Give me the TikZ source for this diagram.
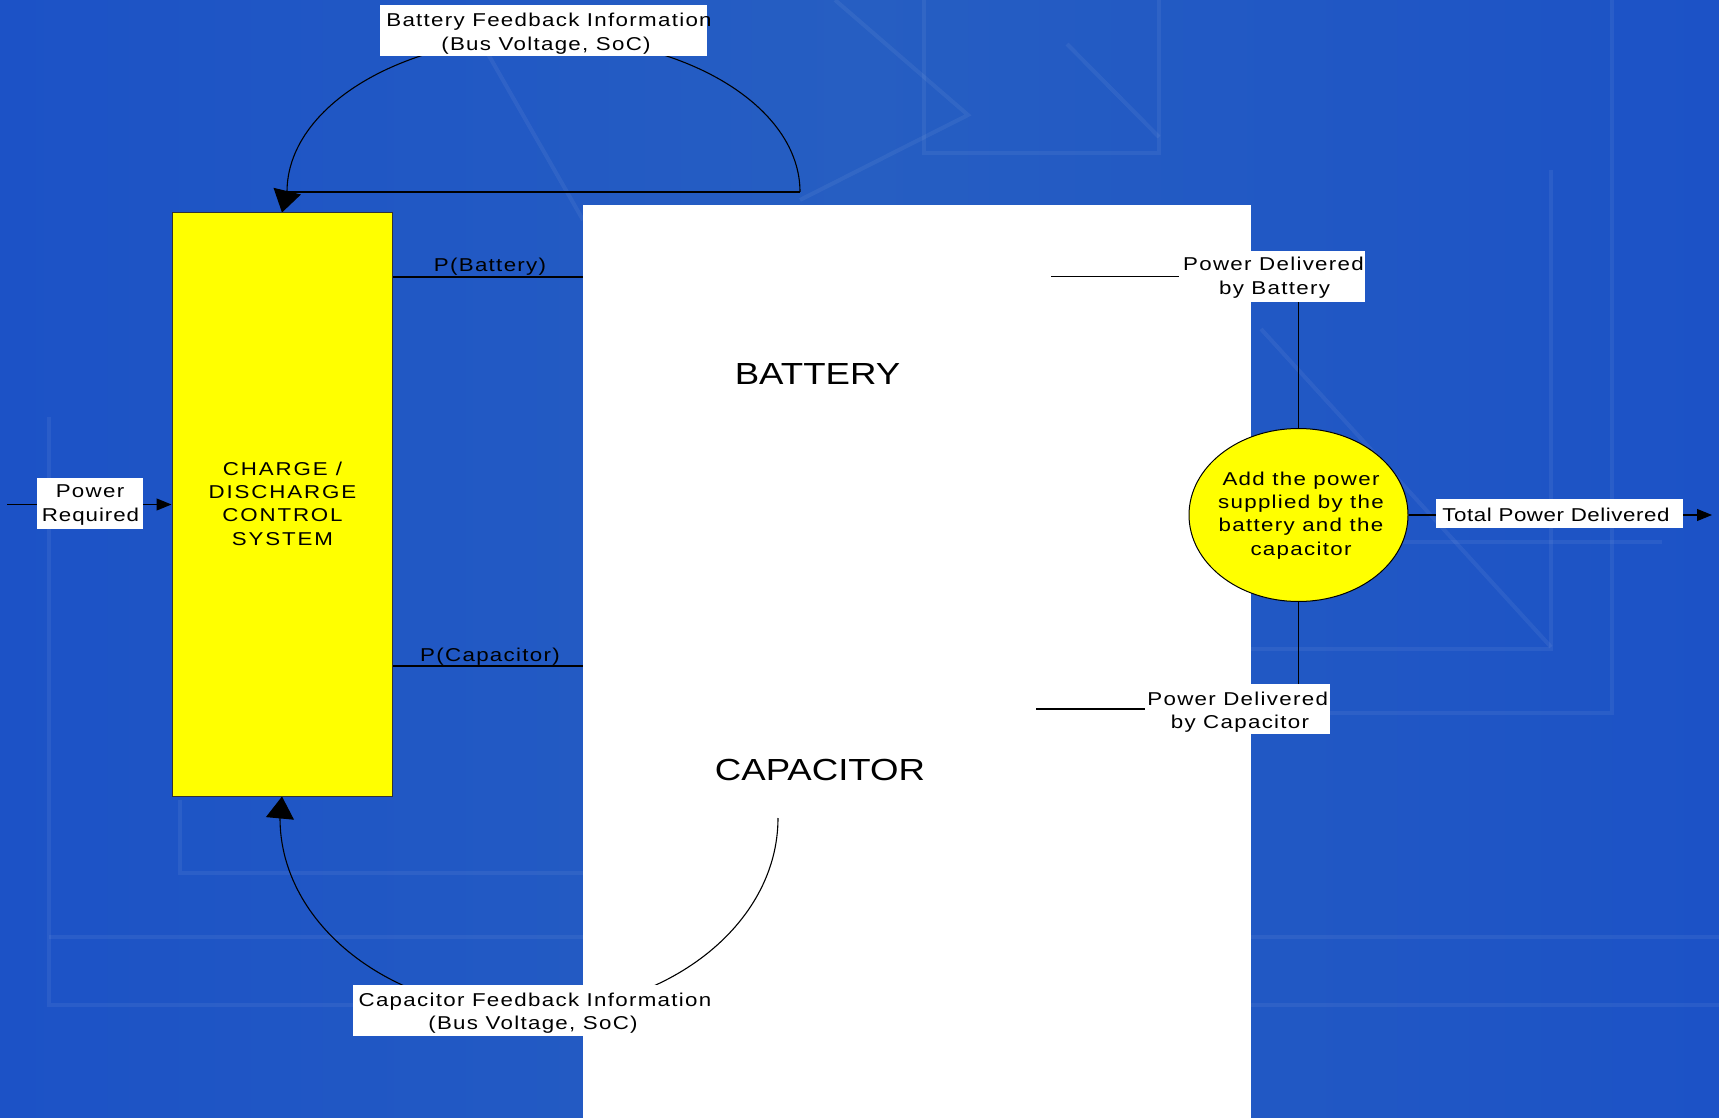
\documentclass[tikz,border=0pt]{standalone}
\usepackage{fontspec}
\setmainfont{Liberation Sans}[FakeStretch=1.2]
\newfontfamily\lblfont{Liberation Sans}[FakeStretch=1.2,LetterSpace=7]
\newfontfamily\lblfontnarrow{Liberation Sans}[FakeStretch=1.2,LetterSpace=3]
\newfontfamily\lblfontwide{Liberation Sans}[FakeStretch=1.2,LetterSpace=10]
\newfontfamily\bigfnt{Liberation Sans}[FakeStretch=1.2]
\usetikzlibrary{arrows.meta,shapes.geometric}
\pgfdeclarelayer{bglayer}
\pgfdeclarelayer{linelayer}
\pgfsetlayers{bglayer,linelayer,main}
\definecolor{bgblueL}{RGB}{28,82,198}
\definecolor{bgblueM}{RGB}{38,94,194}
\definecolor{ybox}{RGB}{255,255,0}
\tikzset{
  lbl/.style={font=\lblfont\fontsize{18.6}{23.3}\selectfont, inner sep=0pt, anchor=base, text=black},
  lbln/.style={font=\lblfontnarrow\fontsize{18.6}{23.3}\selectfont, inner sep=0pt, anchor=base, text=black},
  lblw/.style={font=\lblfontwide\fontsize{18.6}{23.3}\selectfont, inner sep=0pt, anchor=base, text=black},
  bigtxt/.style={font=\bigfnt\fontsize{30.5}{36}\selectfont, inner sep=0pt, anchor=base, text=black},
  wbox/.style={fill=white, draw=none, inner sep=0pt, minimum height=51pt},
  conn/.style={draw=black, line width=1.1pt},
  smallarr/.style={-{Triangle[width=12pt,length=15pt]}},
  bigarr/.style={-{Triangle[width=28pt,length=22pt]}},
  bgline/.style={draw=white, opacity=0.06, line width=4pt}
}
\begin{document}
\begin{tikzpicture}[x=1pt,y=1pt]
\useasboundingbox (0,0) rectangle (1719,-1118);
\begin{pgfonlayer}{bglayer}
  \shade[left color=bgblueL, right color=bgblueL, middle color=bgblueM] (0,0) rectangle (1719,-1118);
  % faint template pattern
  \draw[bgline] (924,0) -- (924,-153) -- (1159,-153) -- (1159,0);
  \draw[bgline] (835,0) -- (968,-115) -- (800,-200);
  \draw[bgline] (1067,-44) -- (1159,-137);
  \draw[bgline] (1251,-649) -- (1551,-649) -- (1551,-170);
  \draw[bgline] (1251,-713) -- (1612,-713) -- (1612,0);
  \draw[bgline] (1251,-542) -- (1662,-542);
  \draw[bgline] (1261,-329) -- (1551,-647);
  \draw[bgline] (49,-417) -- (49,-1005) -- (1719,-1005);
  \draw[bgline] (49,-937) -- (1719,-937);
  \draw[bgline] (180,-800) -- (180,-873) -- (583,-873);
  \draw[bgline] (480,-40) -- (583,-220);
  \node[name=whitebg, fill=white, inner sep=0pt, minimum width=668.5pt, minimum height=913pt, anchor=north west] at (582.5,-205) {};
\end{pgfonlayer}

% main blocks
\node[name=ctrl, draw=black!80, fill=ybox, line width=1pt, minimum width=220pt, minimum height=583pt, inner sep=0pt] at (282,-504.5) {};
\node[lblw, name=ct1] at (282.5,-475) {CHARGE /};
\node[lblw, name=ct2] at (282.5,-498.3) {DISCHARGE};
\node[lblw, name=ct3] at (282.5,-521.6) {CONTROL};
\node[lblw, name=ct4] at (282.5,-545) {SYSTEM};

\node[name=add, ellipse, draw=black, fill=ybox, line width=1pt, minimum width=219pt, minimum height=173pt, inner sep=0pt] at (1298.5,-515) {};
\node[lbl, name=ad1] at (1301,-485) {Add the power};
\node[lbl, name=ad2] at (1301,-508.3) {supplied by the};
\node[lbl, name=ad3] at (1301,-531.7) {battery and the};
\node[lbl, name=ad4] at (1301,-555) {capacitor};

\node[bigtxt, name=battxt] at (817.5,-384) {BATTERY};
\node[bigtxt, name=captxt] at (820,-780) {CAPACITOR};

% label boxes
\node[wbox, name=prbox, minimum width=106pt] at (90,-503.5) {};
\node[lbl, name=pr1] at (90,-497.7) {Power};
\node[lbl, name=pr2, font=\lblfont\fontsize{18.6}{23.3}\selectfont\addfontfeature{LetterSpace=5}] at (90.5,-521.7) {Required};

\node[wbox, name=bfbox, minimum width=327pt] at (543.5,-30.5) {};
\node[lbl, name=bf1] at (549,-26.7) {Battery Feedback Information};
\node[lbl, name=bf2] at (546,-50.7) {(Bus Voltage, SoC)};

\node[wbox, name=cfbox, minimum width=364pt] at (535,-1010.5) {};
\node[lbl, name=cf1] at (535,-1006) {Capacitor Feedback Information};
\node[lbl, name=cf2] at (533,-1029.3) {(Bus Voltage, SoC)};

\node[wbox, name=pdbbox, minimum width=186pt] at (1272,-276.5) {};
\node[lbl, name=pdb1] at (1273.5,-270.7) {Power Delivered};
\node[lbl, name=pdb2] at (1274.5,-294) {by Battery};

\node[wbox, name=pdcbox, minimum width=185pt, minimum height=50pt] at (1237.5,-709) {};
\node[lbl, name=pdc1] at (1237.7,-705) {Power Delivered};
\node[lbl, name=pdc2] at (1240,-728.3) {by Capacitor};

\node[wbox, name=tpbox, minimum width=247pt, minimum height=29pt] at (1559.5,-513.5) {};
\node[lbln, name=tp1] at (1556,-521.7) {Total Power Delivered};

\node[lbl, name=pbat] at (490,-272) {P(Battery)};
\node[lbl, name=pcap] at (490,-661) {P(Capacitor)};

% connectors
\begin{pgfonlayer}{linelayer}
  \coordinate (prstart) at (7,-504.5);
  \draw[conn, smallarr] (prstart) -- (ctrl.west);
  \coordinate (ypb) at (0,-277);
  \coordinate (ypc) at (0,-666);
  \draw[conn] (ctrl.east |- ypb) -- (whitebg.west |- ypb);
  \draw[conn] (ctrl.east |- ypc) -- (whitebg.west |- ypc);
  \coordinate (pdbstart) at (1051,-276.5);
  \draw[conn] (pdbstart) -- (pdbbox.west);
  \draw[conn] (add.north |- pdbbox.south) -- (add.north);
  \coordinate (pdcstart) at (1036,-709);
  \draw[conn] (pdcstart) -- (pdcbox.west);
  \draw[conn] (add.south) -- (add.south |- pdcbox.north);
  \draw[conn] (add.east) -- (add.east -| tpbox.west);
  \coordinate (tpend) at (1712,-515);
  \draw[conn, smallarr] (tpbox.east |- add.east) -- (tpend);
  \coordinate (tfR) at (800,-192);
  \coordinate (tfL) at (287,-192);
  \draw[conn] (tfR) -- (tfL);
  \draw[conn, bigarr] (tfR) arc[start angle=0, end angle=180, x radius=256.5, y radius=155] -- (ctrl.north);
  \coordinate (bfR) at (778,-818);
  \draw[conn, bigarr] (bfR) arc[start angle=0, end angle=-180, x radius=249, y radius=194] -- (ctrl.south);
\end{pgfonlayer}
\end{tikzpicture}
\end{document}
